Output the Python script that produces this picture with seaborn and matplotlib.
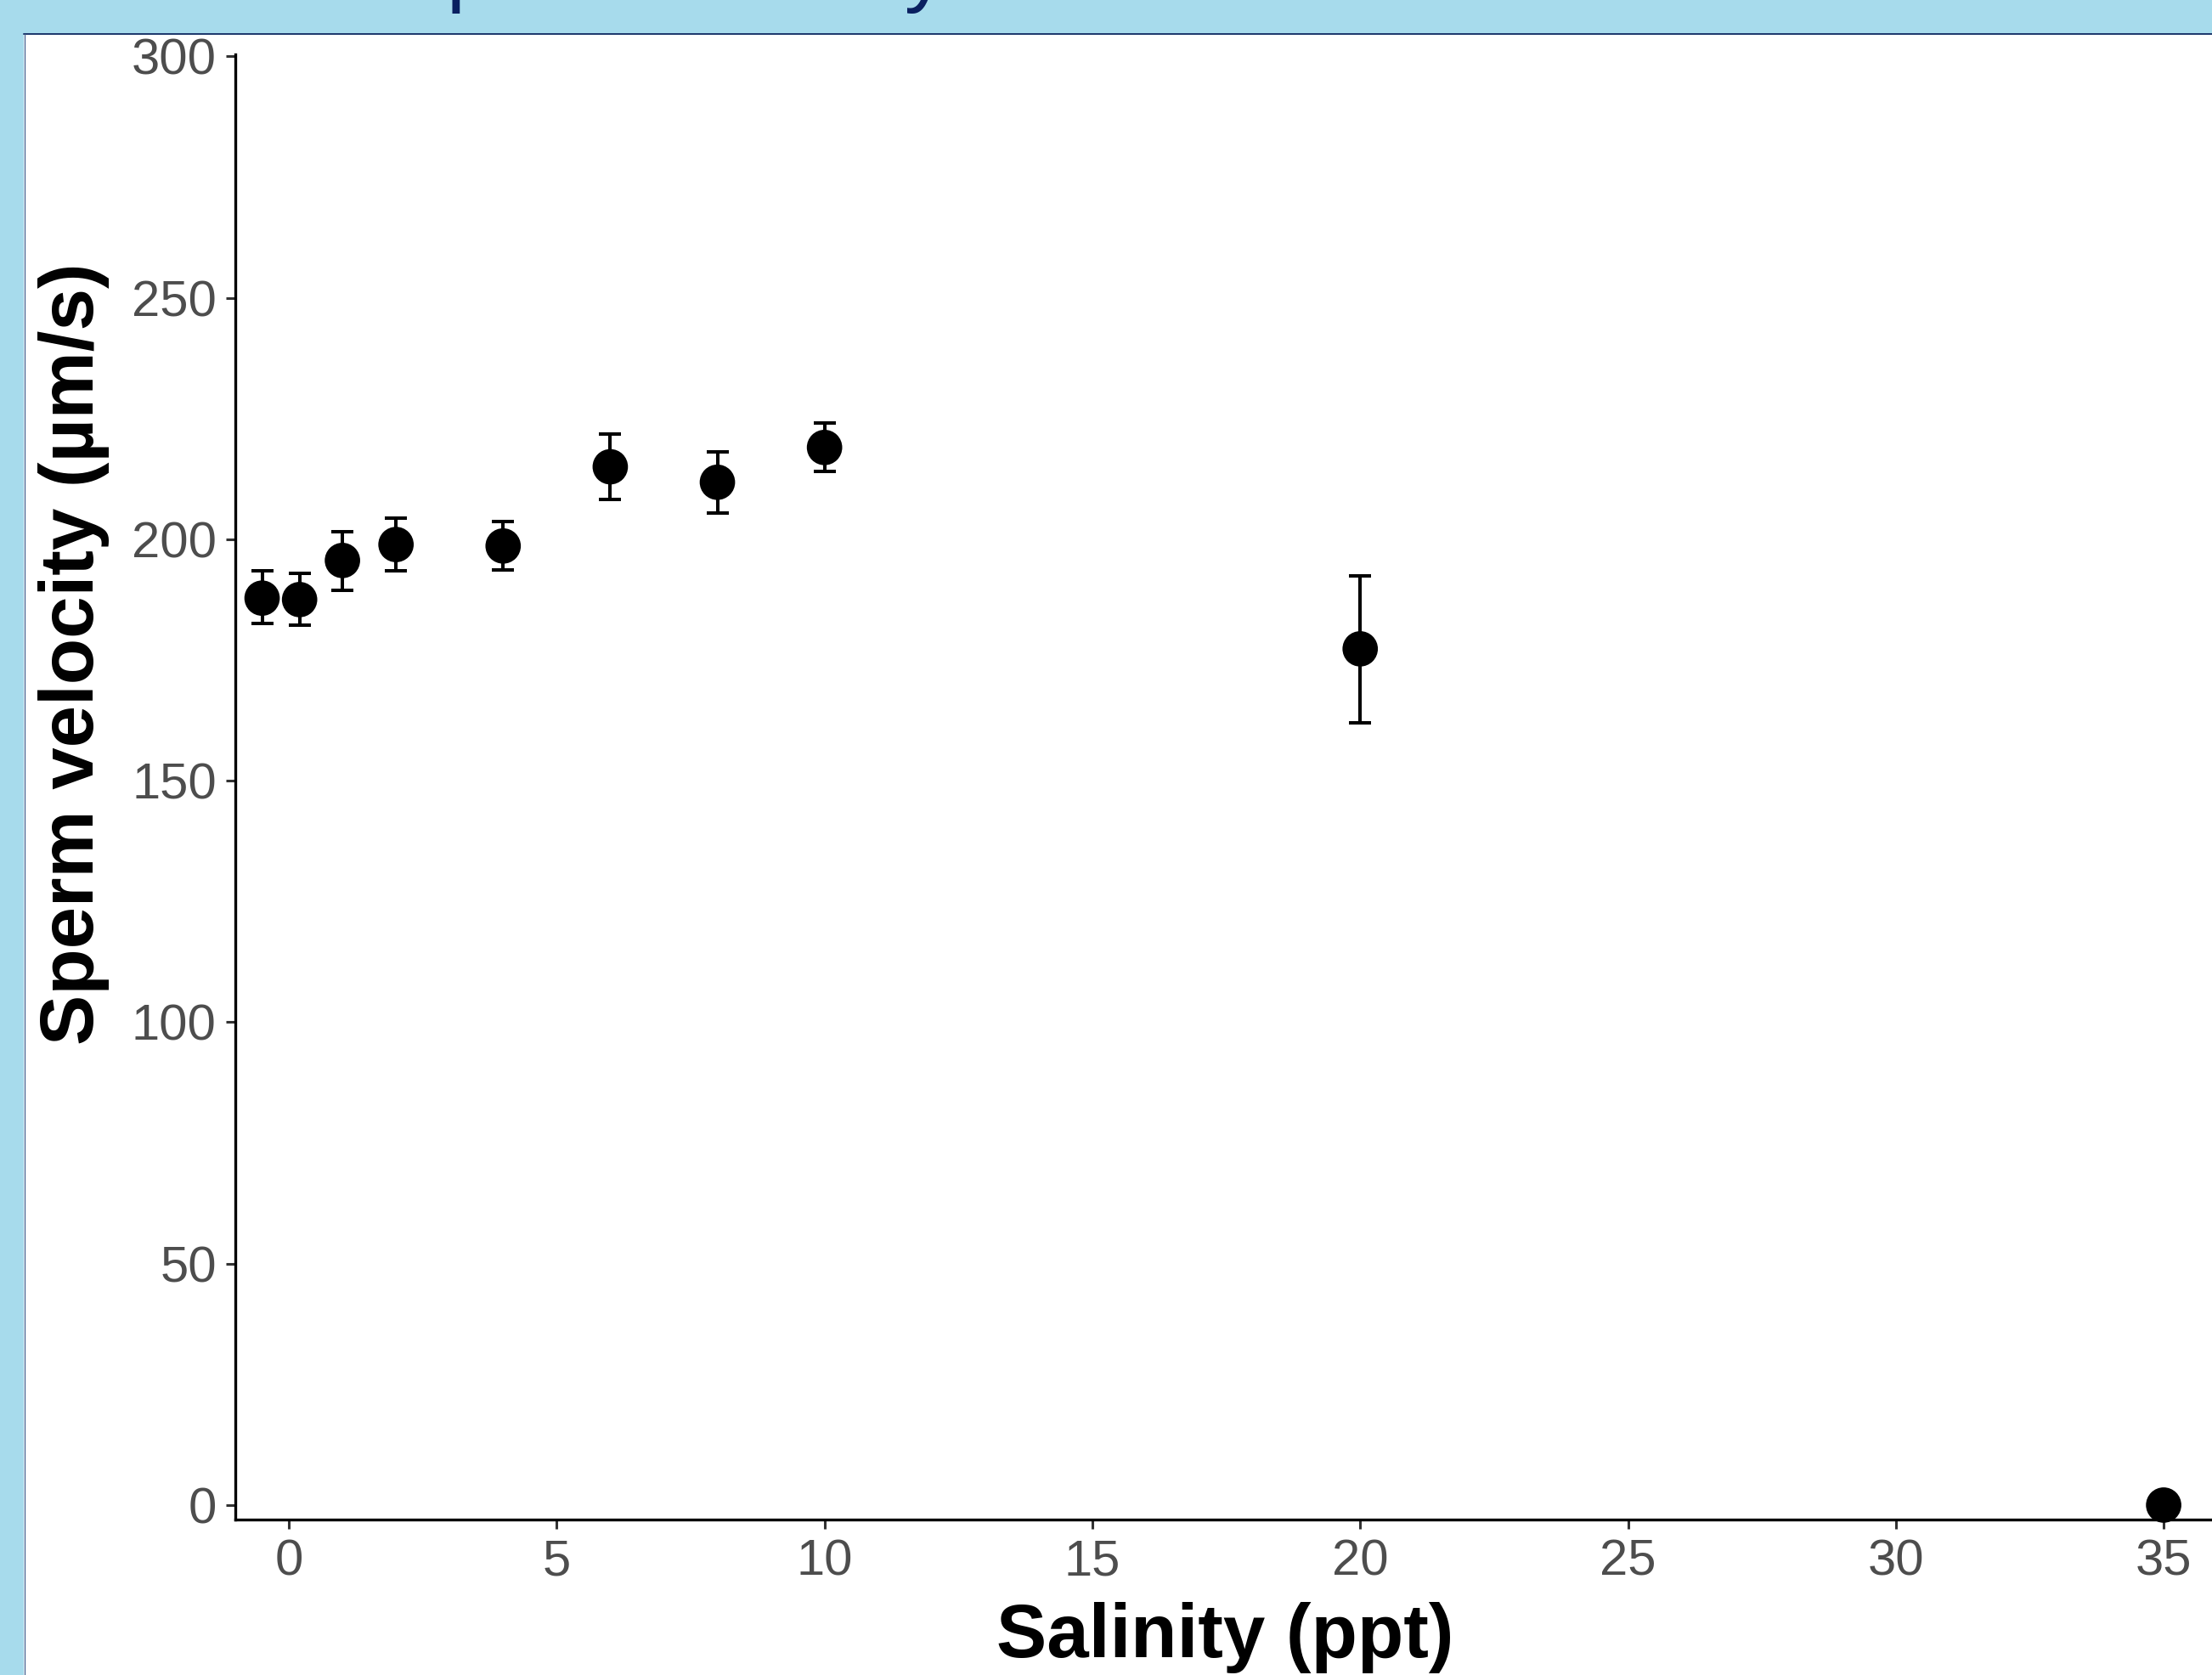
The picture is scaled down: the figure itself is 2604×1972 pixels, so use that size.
import matplotlib
matplotlib.use("Agg")
import matplotlib.pyplot as plt
from matplotlib.lines import Line2D
from matplotlib.patches import Rectangle
import numpy as np
import pandas as pd
import seaborn as sns

# ---- data ----
salinity = [-0.5, 0.2, 1, 2, 4, 6, 8, 10, 20, 35]
velocity = [187.8, 187.5, 195.6, 198.9, 198.6, 215.0, 211.8, 219.0, 177.3, 0.0]
upper = [193.5, 193.0, 201.6, 204.3, 203.7, 221.8, 218.1, 224.0, 192.4, np.nan]
lower = [182.5, 182.2, 189.4, 193.5, 193.6, 208.2, 205.4, 214.0, 161.9, np.nan]
x_ticks = [0, 5, 10, 15, 20, 25, 30, 35]
y_ticks = [0, 50, 100, 150, 200, 250, 300]
x_label = "Salinity (ppt)"
y_label = "Sperm velocity (µm/s)"
title_text = "Sperm velocity"

df = pd.DataFrame({"salinity": salinity, "velocity": velocity,
                   "upper": upper, "lower": lower})

sns.set_theme(style="white")
plt.rcParams["font.family"] = ["Liberation Sans", "DejaVu Sans"]

W, H, DPI = 2604, 1972, 100
fig = plt.figure(figsize=(W / DPI, H / DPI), dpi=DPI)
fig.patch.set_facecolor("#A7DBEC")

# white panel of the poster
fig.patches.append(Rectangle((28 / W, 0), 1, 1 - 39 / H, transform=fig.transFigure,
                             facecolor="white", edgecolor="none", zorder=-2))
fig.lines.append(Line2D([28 / W, 1], [1 - 40 / H, 1 - 40 / H], transform=fig.transFigure,
                        color="#1F3A6E", linewidth=2.0 * 72 / DPI, zorder=-1))
fig.lines.append(Line2D([28.5 / W, 28.5 / W], [0, 1 - 40 / H], transform=fig.transFigure,
                        color="#3B5B8C", linewidth=1.2 * 72 / DPI, zorder=-1))

# partially visible title above the panel (cut off, as in the reference)
fig.text(459 / W, 1 + 5 / H, title_text, fontsize=72, color="#0A2060",
         ha="left", va="baseline")

left, right, top, bottom = 277, 2607, 64, 1789
ax = fig.add_axes([left / W, 1 - bottom / H, (right - left) / W, (bottom - top) / H])
ax.set_zorder(1)
ax.set_facecolor("none")

dfe = df.dropna()
ax.errorbar(dfe["salinity"], dfe["velocity"],
            yerr=[dfe["velocity"] - dfe["lower"], dfe["upper"] - dfe["velocity"]],
            fmt="none", ecolor="black", elinewidth=2.9, capsize=9.4, capthick=2.9, zorder=2)
sns.scatterplot(data=df, x="salinity", y="velocity", ax=ax, s=900, color="black",
                edgecolor="none", linewidth=0, zorder=3, clip_on=False, legend=False)

ax.set_xlim(-1.0, 35.95)
ax.set_ylim(-3.0, 300.4)
ax.set_xticks(x_ticks)
ax.set_yticks(y_ticks)
ax.set_xticklabels([str(v) for v in x_ticks])
ax.set_yticklabels([str(v) for v in y_ticks])

for s in ["top", "right"]:
    ax.spines[s].set_visible(False)
for s in ["left", "bottom"]:
    ax.spines[s].set_visible(True)
    ax.spines[s].set_color("black")
    ax.spines[s].set_linewidth(2.4)

ax.tick_params(axis="both", which="major", length=8, width=2.2, color="#333333",
               labelcolor="#4D4D4D", labelsize=43, direction="out",
               bottom=True, left=True)
ax.tick_params(axis="y", pad=8)
ax.tick_params(axis="x", pad=8)
ax.grid(False)
ax.set_xlabel("")
ax.set_ylabel("")

fig.text(1442 / W, 1 - 1951 / H, x_label, fontsize=64, fontweight="bold",
         color="black", ha="center", va="baseline")
fig.text(110 / W, 1 - 770 / H, y_label, fontsize=64, fontweight="bold",
         color="black", ha="center", va="baseline", rotation=90, rotation_mode="anchor")

fig.savefig("out.png", dpi=DPI, facecolor=fig.get_facecolor())
